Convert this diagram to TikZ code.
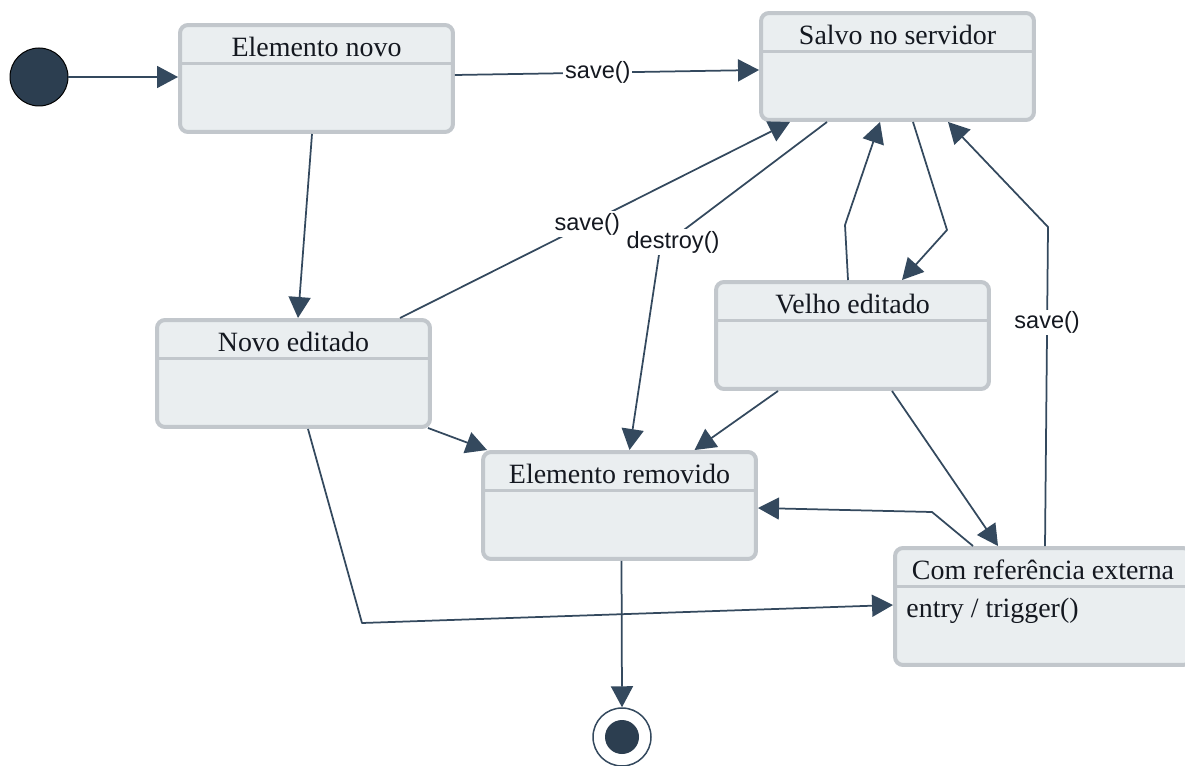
\documentclass[tikz,border=0pt]{standalone}
\usepackage{fontspec}
\setmainfont{Liberation Serif}
\setsansfont{Liberation Sans}
\usetikzlibrary{arrows.meta,calc}
\definecolor{edgecol}{HTML}{34495E}
\definecolor{boxfill}{HTML}{EAEEF0}
\definecolor{boxline}{HTML}{C2C7CC}
\definecolor{dotfill}{HTML}{2C3E50}
\definecolor{inkcol}{HTML}{141820}

% one UML state: name, centre, size style, title
\newcommand\umlstate[4]{%
  \node[statebox,#3] (#1) at (#2) {};
  \draw[divider] ($(#1.north west)+(2,40)$) -- ($(#1.north east)+(-2,40)$);
  \node[titletext, anchor=base] (#1-t) at ($(#1.north)+(0,33)$) {#4};
}

\begin{document}
\begin{tikzpicture}[x=0.02cm, y=-0.02cm,
  statebox/.style={draw=boxline, fill=boxfill, line width=0.08cm,
    rounded corners=0.16cm, inner sep=0pt,
    minimum width=5.46cm, minimum height=2.14cm},
  widebox/.style={minimum width=5.92cm, minimum height=2.34cm},
  divider/.style={draw=boxline, line width=0.06cm},
  titletext/.style={font=\fontsize{15.9}{19}\selectfont, text=inkcol, inner sep=0pt},
  conn/.style={draw=edgecol, line width=0.035cm, line join=round,
    -{Triangle[length=0.42cm, width=0.44cm]}},
  lbl/.style={font=\sffamily\fontsize{13.4}{16}\selectfont, text=inkcol,
    fill=white, inner sep=1pt},
]
\useasboundingbox (0,0) rectangle (1185,766);

% states
\umlstate{nv}{316.5,78.5}{}{Elemento novo}
\umlstate{ss}{897.5,66.5}{}{Salvo no servidor}
\umlstate{ne}{293.5,373.5}{}{Novo editado}
\umlstate{ve}{852.5,335.5}{}{Velho editado}
\umlstate{er}{619.5,505.5}{}{Elemento removido}
\umlstate{cr}{1043,606.5}{widebox}{Com referência externa}
\node[titletext, anchor=base west] (cr-entry) at ($(cr.north west)+(13,71)$) {entry / trigger()};

% initial and final pseudo-states
\node[circle, draw=black, line width=0.02cm, fill=dotfill,
  minimum size=1.16cm, inner sep=0pt] (init) at (39,77) {};
\node[circle, draw=edgecol, line width=0.03cm, fill=white,
  minimum size=1.16cm, inner sep=0pt] (fin) at (622,737) {};
\node[circle, fill=dotfill, minimum size=0.68cm, inner sep=0pt] (fin-dot) at (fin) {};

% bend points
\coordinate (bDestroy) at (660,248);
\coordinate (bVeUp) at (845,225);
\coordinate (bVeDown) at (947,230);
\coordinate (bCrUp) at (1048,227);
\coordinate (bCrEr) at (932,512);
\coordinate (bNeCr) at (362,623);

% transitions
\draw[conn] (init.east) -- (nv.west |- init);
\draw[conn] ($(nv.east)+(0,-3.5)$) -- node[lbl, pos=0.47] (l-save1) {save()} ($(ss.west)+(0,3.5)$);
\draw[conn] ($(nv.south)+(-4.5,0)$) -- ($(ne.north)+(4.5,0)$);
\draw[conn] ($(ne.north)+(106.5,0)$) -- node[lbl, pos=0.48] (l-save2) {save()} ($(ss.south)+(-107.5,0)$);
\draw[conn] ($(ss.south)+(-70.5,0)$) -- (bDestroy) -- ($(er.north)+(10,0)$);
\node[lbl] (l-destroy) at (673,242) {destroy()};
\draw[conn] ($(ve.north)+(-4.5,0)$) -- (bVeUp) -- ($(ss.south)+(-17.5,0)$);
\draw[conn] ($(ss.south)+(15.5,0)$) -- (bVeDown) -- ($(ve.north)+(49.5,0)$);
\draw[conn] ($(cr.north)+(2,0)$) -- node[lbl, pos=0.7] (l-save3) {save()} (bCrUp) -- ($(ss.south)+(50.5,0)$);
\draw[conn] ($(ne.south east)+(-4,-1)$) -- ($(er.north west)+(6,0)$);
\draw[conn] ($(ve.south)+(-74.5,0)$) -- ($(er.north)+(75,0)$);
\draw[conn] ($(ve.south)+(39.5,0)$) -- ($(cr.north)+(-45,0)$);
\draw[conn] ($(cr.north)+(-70,0)$) -- (bCrEr) -- ($(er.east)+(0,2.5)$);
\draw[conn] ($(ne.south)+(14.5,0)$) -- (bNeCr) -- ($(cr.west)+(0,-1.5)$);
\draw[conn] ($(er.south)+(2,0)$) -- (fin.north);
\end{tikzpicture}
\end{document}
